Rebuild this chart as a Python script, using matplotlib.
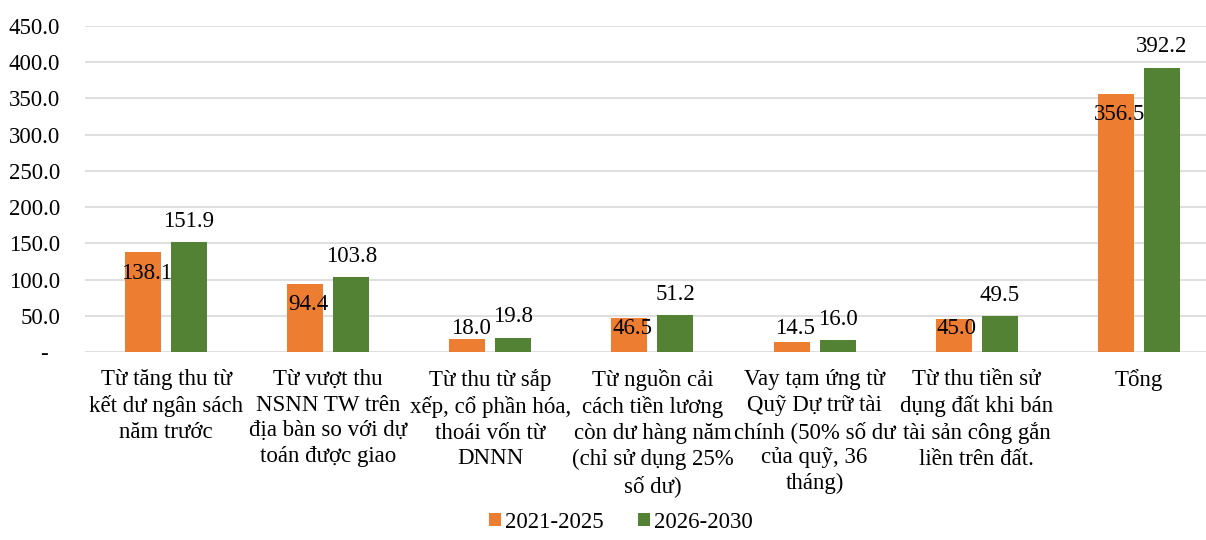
import numpy as np
import matplotlib

matplotlib.use("Agg")
import matplotlib.pyplot as plt
from matplotlib.ticker import FuncFormatter

plt.rcParams["font.family"] = ["Liberation Serif", "DejaVu Serif"]

categories = [
    "Từ tăng thu từ\nkết dư ngân sách\nnăm trước",
    "Từ vượt thu\nNSNN TW trên\nđịa bàn so với dự\ntoán được giao",
    "Từ thu từ sắp\nxếp, cổ phần hóa,\nthoái vốn từ\nDNNN",
    "Từ nguồn cải\ncách tiền lương\ncòn dư hàng năm\n(chỉ sử dụng 25%\nsố dư)",
    "Vay tạm ứng từ\nQuỹ Dự trữ tài\nchính (50% số dư\ncủa quỹ, 36\ntháng)",
    "Từ thu tiền sử\ndụng đất khi bán\ntài sản công gắn\nliền trên đất.",
    "Tổng",
]
series_names = ["2021-2025", "2026-2030"]
values_2021_2025 = [138.1, 94.4, 18.0, 46.5, 14.5, 45.0, 356.5]
values_2026_2030 = [151.9, 103.8, 19.8, 51.2, 16.0, 49.5, 392.2]

ORANGE = "#ED7D31"
GREEN = "#548235"
FS = 16.5

fig = plt.figure(figsize=(12.06, 5.4), dpi=100)
# plot area runs a bit past the right edge of the picture, as in the source
ax = fig.add_axes([0.0705, 0.348, 0.941, 0.604])

x = np.arange(len(categories))
w = 0.222
gap = 0.062
b1 = ax.bar(x - (w + gap) / 2, values_2021_2025, w, color=ORANGE,
            label=series_names[0], zorder=3)
b2 = ax.bar(x + (w + gap) / 2, values_2026_2030, w, color=GREEN,
            label=series_names[1], zorder=3)

# orange labels sit inside near the top, green ones above the bar
for rect, v in zip(b1, values_2021_2025):
    ax.text(rect.get_x() + rect.get_width() / 2 + 0.02, max(v - 29, 32),
            f"{v:.1f}", ha="center", va="center", fontsize=FS, zorder=4)
for rect, v in zip(b2, values_2026_2030):
    ax.annotate(f"{v:.1f}", (rect.get_x() + rect.get_width() / 2, v),
                xytext=(0, 15), textcoords="offset points",
                ha="center", va="center", fontsize=FS, zorder=4)

ax.set_xlim(-0.5, len(categories) - 0.5)
ax.set_ylim(0, 450)
ax.set_yticks(np.arange(0, 451, 50))
ax.yaxis.set_major_formatter(FuncFormatter(lambda v, p: "-  " if v == 0 else f"{v:.1f}"))
ax.set_xticks(x)
ax.set_xticklabels(categories, fontsize=FS, linespacing=1.3)
ax.tick_params(axis="x", length=0, pad=12)
ax.tick_params(axis="y", length=0, pad=18, labelsize=FS)
ax.grid(axis="y", color="#D9D9D9", lw=1.2, zorder=0)
for s in ax.spines.values():
    s.set_visible(False)

fig.legend(handles=[b1, b2], labels=series_names, loc="lower center",
           bbox_to_anchor=(0.515, -0.012), ncol=2, frameon=False, fontsize=FS,
           borderpad=0.1, handlelength=0.5, handleheight=0.5,
           handletextpad=0.2, columnspacing=1.5)

fig.savefig("out.png", dpi=100)
